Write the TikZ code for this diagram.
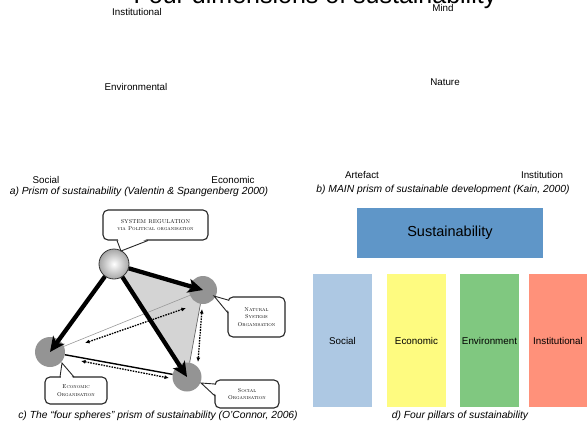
\documentclass[tikz,border=0pt]{standalone}
\usepackage{fontspec}
\setsansfont{Liberation Sans}
\usetikzlibrary{arrows.meta}
\definecolor{sustblue}{HTML}{5F96C8}
\definecolor{pblue}{HTML}{ADC8E3}
\definecolor{pyellow}{HTML}{FEFB80}
\definecolor{pgreen}{HTML}{80C880}
\definecolor{psalmon}{HTML}{FF917A}
\begin{document}
\begin{tikzpicture}[x=1pt,y=-1pt,
  lbl/.style={font=\sffamily\fontsize{9.8}{11}\selectfont, inner sep=0pt},
  capt/.style={font=\sffamily\itshape\fontsize{10.3}{12}\selectfont, inner sep=0pt},
  pillar/.style={minimum width=59pt, minimum height=133pt, inner sep=0pt, font=\sffamily\fontsize{9.8}{11}\selectfont},
  sphere/.style={circle, fill=black!42, inner sep=0pt},
  callout/.style={draw=black!85, line width=1.1pt, rounded corners=5pt, fill=white, inner sep=0pt,
     font=\rmfamily\scshape\fontsize{5.6}{7.8}\selectfont, align=center},
  tail/.style={draw=black!85, line width=0.9pt},
  bigarrow/.style={line width=4.3pt, -{Stealth[length=15pt,width=14pt,inset=4pt]}},
  dotarrow/.style={line width=1.3pt, dash pattern=on 1.6pt off 1.1pt,
     {Latex[length=4.5pt,width=4pt]}-{Latex[length=4.5pt,width=4pt]}}
]
\useasboundingbox (0,0) rectangle (587,424);

% title (cut off at top)
\node[anchor=base, font=\sffamily\fontsize{25}{30}\selectfont, inner sep=0pt] (title) at (315,3) {Four dimensions of sustainability};

% panel a
\node[lbl] (ainst) at (137,12) {Institutional};
\node[lbl] (aenv) at (136,87) {Environmental};
\node[lbl] (asoc) at (46,180) {Social};
\node[lbl] (aeco) at (233,180) {Economic};
\node[capt] (capa) at (139,192) {a) Prism of sustainability (Valentin \& Spangenberg 2000)};

% panel b
\node[lbl] (bmind) at (443,8) {Mind};
\node[lbl] (bnat) at (445,82) {Nature};
\node[lbl] (bart) at (362,175) {Artefact};
\node[lbl] (binst) at (542,175) {Institution};
\node[capt] (capb) at (443,190) {b) MAIN prism of sustainable development (Kain, 2000)};

% panel d
\node[fill=sustblue, minimum width=186pt, minimum height=50pt, inner sep=0pt,
      font=\sffamily\fontsize{14.5}{16}\selectfont] (sust) at (450,233) {Sustainability};
\node[pillar, fill=pblue] (psoc) at (342.5,340.5) {Social};
\node[pillar, fill=pyellow] (peco) at (416.5,340.5) {Economic};
\node[pillar, fill=pgreen] (penv) at (489.5,340.5) {Environment};
\node[pillar, fill=psalmon, minimum width=58pt] (pinst) at (558,340.5) {Institutional};
\node[capt] (capd) at (460,416) {d) Four pillars of sustainability};

% panel c
\coordinate (ctop) at (114,264);
\coordinate (cnat) at (203,290);
\coordinate (ceco) at (50,352);
\coordinate (csoc) at (187,377);
\fill[black!17] (ctop) -- (cnat) -- (csoc) -- cycle;

\node[sphere, minimum size=28pt] (nat) at (cnat) {};
\node[sphere, minimum size=30pt] (eco) at (ceco) {};
\node[sphere, minimum size=29pt] (soc) at (csoc) {};
\node[circle, minimum size=30pt, inner sep=0pt, shading=radial, inner color=white, outer color=black!35,
      draw=black!80, line width=0.8pt] (top) at (ctop) {};

\draw[black!40, line width=0.6pt] (eco) -- (nat);
\draw[black!60, line width=0.7pt] (nat) -- (soc);
\draw[black, line width=1.4pt] (eco) -- (soc);

\draw[bigarrow] (top) -- (nat.center);
\draw[bigarrow] (top) -- (eco.center);
\draw[bigarrow] (top) -- (soc.center);

\coordinate (d1a) at (85,343);
\coordinate (d1b) at (186,308);
\coordinate (d2a) at (81,361);
\coordinate (d2b) at (169,378);
\coordinate (d3a) at (202,309);
\coordinate (d3b) at (198,362);
\draw[dotarrow] (d1a) -- (d1b);
\draw[dotarrow] (d2a) -- (d2b);
\draw[dotarrow] (d3a) -- (d3b);

% callouts
\node[callout, minimum width=105pt, minimum height=30pt] (csys) at (155.5,225)
  {SYSTEM REGULATION\\ via Political organisation};
\coordinate (tsys) at (121,251);
\fill[white] (118,239) -- (tsys) -- (147,239) -- cycle;
\draw[tail] (117,240.5) -- (tsys) -- (148,240.5);

\node[callout, minimum width=57pt, minimum height=40pt] (cnatb) at (256.5,317)
  {Natural\\ Systems\\ Organisation};
\coordinate (tnat) at (214,296);
\fill[white] (229,301) -- (tnat) -- (229,312) -- cycle;
\draw[tail] (228,300) -- (tnat) -- (228,313);

\node[callout, minimum width=62pt, minimum height=27pt] (cecob) at (76,390.5)
  {Economic\\ Organisation};
\coordinate (teco) at (62,363);
\fill[white] (61,378) -- (teco) -- (73,378) -- cycle;
\draw[tail] (60,377) -- (teco) -- (74,377);

\node[callout, minimum width=64pt, minimum height=28pt] (csocb) at (247,394)
  {Social\\ Organisation};
\coordinate (tsoc) at (201,383);
\fill[white] (216,385) -- (tsoc) -- (216,395) -- cycle;
\draw[tail] (215,384) -- (tsoc) -- (215,396);

\node[capt] (capc) at (158,416) {c) The “four spheres” prism of sustainability (O’Connor, 2006)};
\end{tikzpicture}
\end{document}
